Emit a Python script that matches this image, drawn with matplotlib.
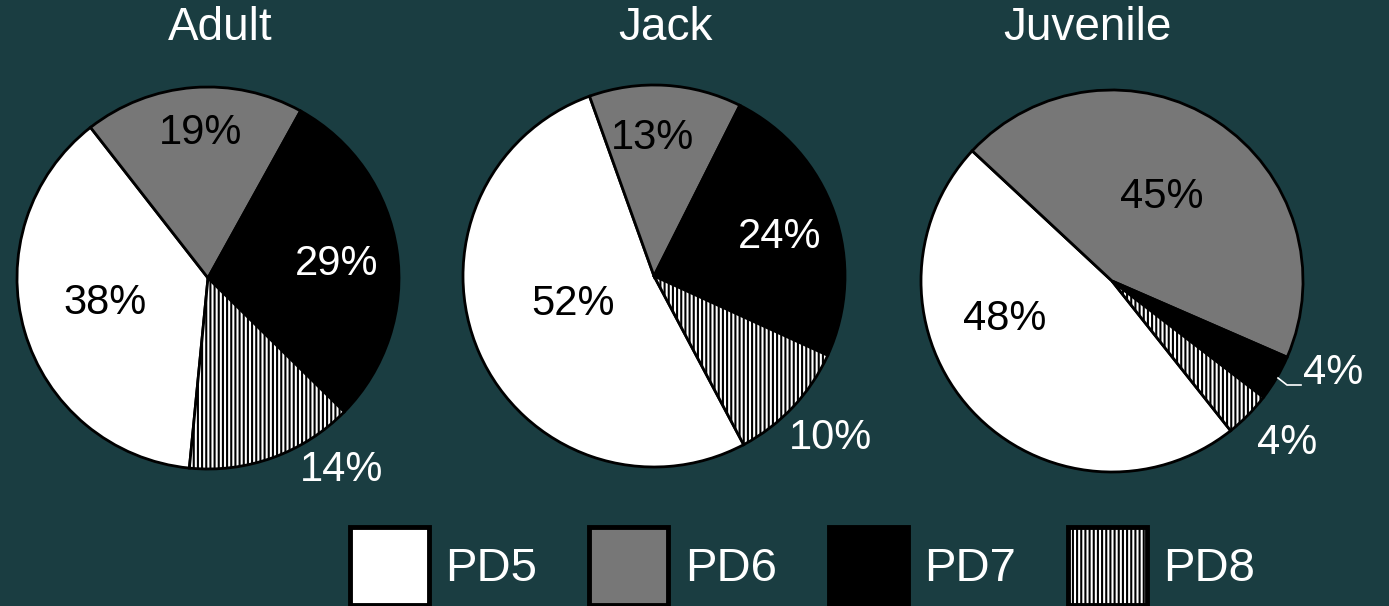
import matplotlib
matplotlib.use("Agg")
import matplotlib.pyplot as plt
from matplotlib.patches import Patch

plt.rcParams['font.family'] = ['Liberation Sans', 'DejaVu Sans']
plt.rcParams['hatch.linewidth'] = 1.5

# ---- data ----
groups = ["Adult", "Jack", "Juvenile"]
categories = ["PD5", "PD6", "PD7", "PD8"]
adult = [37.9, 18.6, 29.3, 14.2]
jack = [52.3, 12.9, 24.4, 10.4]
juvenile = [47.6, 44.6, 3.9, 3.9]
series = [adult, jack, juvenile]

# ---- style / layout ----
BG = '#1a3d41'
W, H = 1389, 606
face_colors = ['white', '#777777', 'black', 'white']
hatches = [None, None, None, '||||']
label_colors = [
    ['black', 'black', 'white', 'white'],
    ['black', 'black', 'white', 'white'],
    ['black', 'black', 'white', 'white'],
]
centers = [(208, 278), (654, 276), (1112, 281)]
radius = 191
start_angles = [-95.6, -62.0, -51.6]
title_pos = [(220, 28), (666, 28), (1087, 28)]
label_pos = [
    [(105, 303), (201, 133), (337, 264), (342, 470)],
    [(573, 304), (653, 138), (780, 237), (830, 438)],
    [(1005, 319), (1162, 197), (1333, 373), (1287, 443)],
]

fig = plt.figure(figsize=(W / 100, H / 100), dpi=100, facecolor=BG)
ax = fig.add_axes([0, 0, 1, 1])
ax.set_facecolor(BG)

for g, vals, (cx, cy), sa, tp, lp, lc in zip(groups, series, centers, start_angles,
                                             title_pos, label_pos, label_colors):
    ax.pie(vals, colors=face_colors, hatch=hatches, startangle=sa, counterclock=False,
           center=(cx, H - cy), radius=radius,
           wedgeprops=dict(edgecolor='black', linewidth=2))
    ax.text(tp[0], H - tp[1], g, color='white', fontsize=33, ha='center', va='center')
    for v, (lx, ly), col in zip(vals, lp, lc):
        ax.text(lx, H - ly, f"{v:.0f}%", color=col, fontsize=30, ha='center', va='center')

# leader line for the small Juvenile PD7 slice
ax.plot([1278, 1287, 1301], [H - 378, H - 385, H - 385], color='white', lw=1.2)

ax.set_xlim(0, W)
ax.set_ylim(0, H)
ax.set_aspect('auto')
ax.axis('off')

handles = [Patch(facecolor=c, edgecolor='black', linewidth=3.5, hatch=h)
           for c, h in zip(face_colors, hatches)]
fig.legend(handles, categories, ncol=4, loc='center left',
           bbox_to_anchor=(350 / W, 1 - 566 / H), frameon=False, fontsize=34,
           handlelength=1.67, handleheight=2.165, handletextpad=0.35,
           columnspacing=1.1, borderpad=0, borderaxespad=0, labelcolor='white')

fig.savefig('out.png', dpi=100, facecolor=BG)
